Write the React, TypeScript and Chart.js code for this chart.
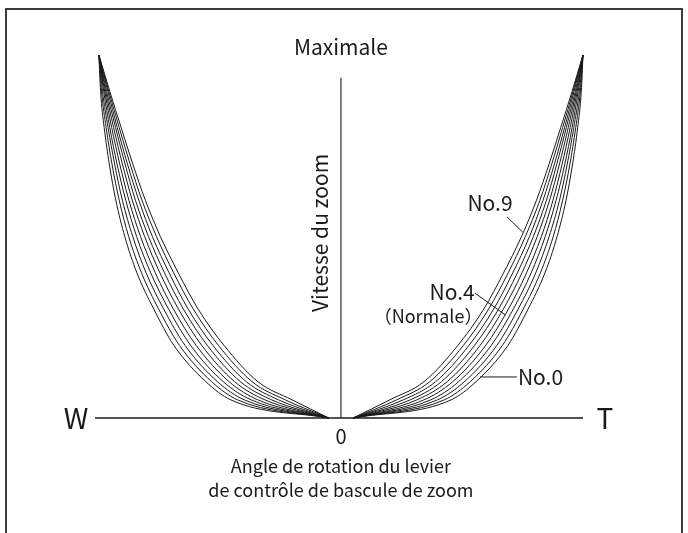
import React, { useEffect, useRef } from 'react';
import { Chart, registerables } from 'chart.js';

Chart.register(...registerables);

// Speed levels (vertical axis, % of maximum zoom speed)
const speedLevels = [0, 5, 10, 20, 30, 40, 50, 60, 70, 80, 90, 100];

// Lever angle (% of full travel) reached by each curve at each speed level
const curveNo0 = [5, 45.5, 55.8, 69.0, 77.3, 84.3, 89.3, 93.0, 95.7, 97.8, 99.3, 100];
const curveNo1 = [5, 42.7, 53.4, 66.7, 75.3, 82.4, 87.7, 91.6, 94.6, 97.0, 98.9, 100];
const curveNo2 = [5, 39.9, 51.0, 64.4, 73.2, 80.5, 86.0, 90.3, 93.5, 96.2, 98.5, 100];
const curveNo3 = [5, 37.1, 48.6, 62.1, 71.2, 78.6, 84.4, 88.9, 92.5, 95.5, 98.0, 100];
const curveNo4 = [5, 34.3, 46.2, 59.8, 69.2, 76.7, 82.8, 87.6, 91.4, 94.7, 97.6, 100];
const curveNo5 = [5, 31.4, 43.9, 57.5, 67.1, 74.8, 81.1, 86.2, 90.3, 93.9, 97.2, 100];
const curveNo6 = [5, 28.6, 41.5, 55.2, 65.1, 72.9, 79.5, 84.9, 89.2, 93.1, 96.8, 100];
const curveNo7 = [5, 25.8, 39.1, 52.9, 63.1, 71.0, 77.9, 83.5, 88.2, 92.4, 96.3, 100];
const curveNo8 = [5, 23.0, 36.7, 50.6, 61.0, 69.1, 76.2, 82.2, 87.1, 91.6, 95.9, 100];
const curveNo9 = [5, 20.2, 34.3, 48.3, 59.0, 67.2, 74.6, 80.8, 86.0, 90.8, 95.5, 100];

const curves = [curveNo0, curveNo1, curveNo2, curveNo3, curveNo4, curveNo5, curveNo6, curveNo7, curveNo8, curveNo9];

// Axis extents
const angleMin = -101.6;
const angleMax = 100;
const speedAxisTop = 93.7;

// Leader lines for the curve labels: [x1, y1, x2, y2]
const leaderNo9 = [68.6, 55.4, 75.1, 51.2];
const leaderNo4 = [55.4, 34.4, 67.9, 28.4];
const leaderNo0 = [57.5, 11.3, 72.7, 11.3];

const titleTop = 'Maximale';
const titleY = 'Vitesse du zoom';
const labelW = 'W';
const labelT = 'T';
const labelZero = '0';
const titleX1 = 'Angle de rotation du levier';
const titleX2 = 'de contrôle de bascule de zoom';
const labelNo9 = 'No.9';
const labelNo4 = 'No.4';
const labelNormal = '（Normale）';
const labelNo0 = 'No.0';

const FONT = '"Noto Sans CJK JP", "Noto Sans", sans-serif';
const INK = '#1a1a1a';

export default function App() {
  const ref = useRef<HTMLCanvasElement | null>(null);

  useEffect(() => {
    document.body.style.margin = '0';
    const canvas = ref.current;
    if (!canvas) return;

    const lineDs = (pts: { x: number; y: number }[], width: number, smooth: boolean) => ({
      data: pts,
      showLine: true,
      borderColor: INK,
      borderWidth: width,
      pointRadius: 0,
      pointHoverRadius: 0,
      fill: false,
      clip: false as any,
      cubicInterpolationMode: smooth ? ('monotone' as const) : ('default' as const),
      tension: 0,
    });

    const datasets: any[] = [];
    curves.forEach((c) => {
      const right = c.map((v, i) => ({ x: v, y: speedLevels[i] }));
      const left = c.map((v, i) => ({ x: -v, y: speedLevels[i] })).reverse();
      datasets.push(lineDs(right, 1, true));
      datasets.push(lineDs(left, 1, true));
    });
    datasets.push(lineDs([{ x: angleMin, y: 0 }, { x: angleMax, y: 0 }], 1.3, false));
    datasets.push(lineDs([{ x: 0, y: 0 }, { x: 0, y: speedAxisTop }], 1.1, false));
    [leaderNo9, leaderNo4, leaderNo0].forEach((l) => {
      datasets.push(lineDs([{ x: l[0], y: l[1] }, { x: l[2], y: l[3] }], 1, false));
    });

    const textPlugin = {
      id: 'texts',
      beforeDraw(chart: any) {
        const ctx = chart.ctx;
        ctx.save();
        ctx.fillStyle = '#ffffff';
        ctx.fillRect(0, 0, chart.width, chart.height);
        ctx.restore();
      },
      afterDraw(chart: any) {
        const ctx = chart.ctx;
        const xs = chart.scales.x;
        const ys = chart.scales.y;
        const px = (v: number) => xs.getPixelForValue(v);
        const py = (v: number) => ys.getPixelForValue(v);
        ctx.save();
        // frame
        ctx.strokeStyle = '#3a3a3a';
        ctx.lineWidth = 2;
        ctx.strokeRect(6, 9, chart.width - 12, chart.height + 20);

        ctx.fillStyle = INK;
        ctx.textAlign = 'center';
        ctx.textBaseline = 'middle';
        ctx.font = `21px ${FONT}`;
        ctx.fillText(titleTop, px(0), py(100) - 8);
        ctx.font = `20px ${FONT}`;
        ctx.fillText(labelZero, px(0), py(0) + 18);
        ctx.font = `18px ${FONT}`;
        ctx.fillText(titleX1, px(0), py(0) + 48);
        ctx.fillText(titleX2, px(0), py(0) + 72);

        ctx.save();
        ctx.font = `21px ${FONT}`;
        ctx.translate(px(0) - 21, py(51));
        ctx.rotate(-Math.PI / 2);
        ctx.fillText(titleY, 0, 0);
        ctx.restore();

        ctx.font = `28px ${FONT}`;
        ctx.fillText(labelW, px(angleMin) - 19, py(0));
        ctx.fillText(labelT, px(angleMax) + 22, py(0));

        ctx.font = `21px ${FONT}`;
        ctx.fillText(labelNo9, px(leaderNo9[0]) - 17, py(leaderNo9[1]) - 14);
        ctx.fillText(labelNo4, px(leaderNo4[0]) - 23, py(leaderNo4[1]) - 1);
        ctx.font = `18px ${FONT}`;
        ctx.fillText(labelNormal, px(leaderNo4[0]) - 47, py(leaderNo4[1]) + 23);
        ctx.font = `21px ${FONT}`;
        ctx.textAlign = 'left';
        ctx.fillText(labelNo0, px(leaderNo0[2]) + 1, py(leaderNo0[3]));
        ctx.restore();
      },
    };

    const chart = new Chart(canvas, {
      type: 'scatter',
      data: { datasets },
      options: {
        animation: false,
        responsive: false,
        maintainAspectRatio: false,
        events: [],
        layout: { padding: { left: 95, right: 105, top: 55, bottom: 115 } },
        plugins: { legend: { display: false }, tooltip: { enabled: false } },
        scales: {
          x: { type: 'linear', min: angleMin, max: angleMax, display: false },
          y: { type: 'linear', min: 0, max: 100, display: false },
        },
      },
      plugins: [textPlugin],
    });
    return () => chart.destroy();
  }, []);

  return <canvas ref={ref} width={688} height={533} style={{ display: 'block' }} />;
}
